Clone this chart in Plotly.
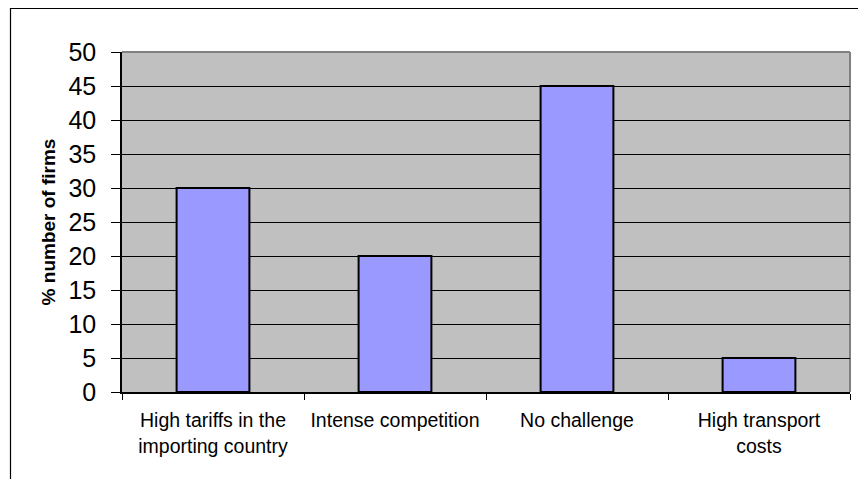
import plotly.graph_objects as go

categories = ["High tariffs in the<br>importing country", "Intense competition",
              "No challenge", "High transport<br>costs"]
values = [30, 20, 45, 5]
y_ticks = [0, 5, 10, 15, 20, 25, 30, 35, 40, 45, 50]

W, H = 858, 479
ML, MR, MT, MB = 122, 8, 52, 87
pw = W - ML - MR
ph = H - MT - MB

def px_to_paper_x(px):
    return (px - ML) / pw

def px_to_paper_y(py):
    return (H - MB - py) / ph

FONT = "Arial, Liberation Sans, sans-serif"

fig = go.Figure()
fig.add_trace(go.Bar(
    x=categories, y=values, width=0.4,
    marker=dict(color="#9999FF", line=dict(color="black", width=2)),
    hoverinfo="skip",
))

shapes = [
    # outer chart frame (cut off at right/bottom)
    dict(type="rect", xref="paper", yref="paper",
         x0=px_to_paper_x(10.5), x1=px_to_paper_x(900),
         y0=px_to_paper_y(520), y1=px_to_paper_y(8.5),
         line=dict(color="black", width=1.2), fillcolor="rgba(0,0,0,0)", layer="above"),
    # plot area top and right gray border
    dict(type="line", xref="paper", yref="paper", x0=0, x1=1, y0=1, y1=1,
         line=dict(color="#808080", width=2), layer="below"),
    dict(type="line", xref="paper", yref="paper", x0=1, x1=1, y0=0, y1=1,
         line=dict(color="#808080", width=2), layer="below"),
]

fig.update_layout(
    width=W, height=H,
    margin=dict(l=ML, r=MR, t=MT, b=MB, autoexpand=False),
    paper_bgcolor="white", plot_bgcolor="#C0C0C0",
    font=dict(family=FONT, color="black"),
    showlegend=False,
    bargap=0.6,
    shapes=shapes,
    xaxis=dict(
        type="category", tickson="boundaries", ticks="outside", ticklen=6,
        tickcolor="black", tickwidth=1, showline=True, linecolor="black",
        linewidth=1.5, showgrid=False, tickfont=dict(size=19.5, color="black"),
        ticklabelstandoff=10, automargin=False,
    ),
    yaxis=dict(
        range=[0, 50], tickvals=y_ticks, ticks="outside", ticklen=9,
        tickcolor="black", tickwidth=1, showline=True, linecolor="black",
        linewidth=1.5, showgrid=True, gridcolor="black", gridwidth=1,
        zeroline=False, tickfont=dict(size=25, color="black"),
        ticklabelstandoff=10,
        title=dict(text="<b>% number of firms</b>", font=dict(size=19, color="black"),
                   standoff=8),
        automargin=False,
    ),
)

fig.write_html("out.html")
